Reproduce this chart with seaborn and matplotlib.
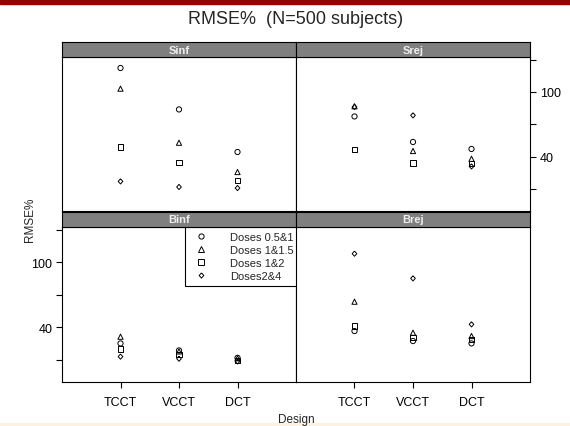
import pandas as pd
import matplotlib
matplotlib.use("Agg")
import matplotlib.pyplot as plt
import seaborn as sns
from matplotlib.patches import Rectangle

# --- DATA ---
DESIGNS = ["TCCT", "VCCT", "DCT"]
DOSES = ["Doses 0.5&1", "Doses 1&1.5", "Doses 1&2", "Doses2&4"]
# small diamond of the same extent as the circle
DIAMOND = [(0, 1), (0.9, 0), (0, -1), (-0.9, 0), (0, 1)]
MARKERS = ["o", "^", "s", DIAMOND]

# RMSE% : one row per dose pair, one column per design
SINF = [
    [122.3, 83.8, 44.3],
    [103.1, 52.9, 25.7],
    [48.9, 34.3, 17.9],
    [17.0, 11.8, 10.8],
]
SREJ = [
    [77.3, 53.6, 47.1],
    [86.8, 45.2, 38.0],
    [46.7, 34.1, 33.4],
    [86.1, 78.3, 30.9],
]
BINF = [
    [25.1, 18.6, 11.8],
    [31.3, 17.7, 11.3],
    [19.9, 14.7, 9.4],
    [12.9, 11.0, 8.5],
]
BREJ = [
    [36.5, 27.3, 25.1],
    [63.6, 35.0, 31.9],
    [41.1, 30.4, 28.8],
    [107.9, 85.1, 42.7],
]

Y_TICKS = [10, 40, 70, 100, 130]
Y_TICK_LABELS = ["", "40", "", "100", ""]

W, H = 570, 427


def to_frame(values):
    rows = []
    for dose, row in zip(DOSES, values):
        for design, v in zip(DESIGNS, row):
            rows.append({"Design": design, "Dose": dose, "RMSE": v})
    return pd.DataFrame(rows)


def px_box(x0, y0, x1, y1):
    """pixel box (top-left origin) -> figure fraction rect"""
    return [x0 / W, 1 - y1 / H, (x1 - x0) / W, (y1 - y0) / H]


sns.set_style("ticks")
plt.rcParams["font.family"] = ["Liberation Sans", "DejaVu Sans"]

fig = plt.figure(figsize=(W / 100, H / 100), dpi=100)

# top dark red band and the pale band at the bottom
fig.patches.append(Rectangle((0, 1 - 5 / H), 1, 5 / H, transform=fig.transFigure,
                             color="#990000", zorder=0))
fig.patches.append(Rectangle((0, 0), 1, 3 / H, transform=fig.transFigure,
                             color="#fdf1e1", zorder=0))

# name, data, panel box (x0, y0, x1, y1), strip top, row, col
panels = [
    ("Sinf", SINF, (62, 58, 296, 212), 43, 0, 0),
    ("Srej", SREJ, (296, 58, 530, 212), 43, 0, 1),
    ("Binf", BINF, (62, 228, 296, 383), 213, 1, 0),
    ("Brej", BREJ, (296, 228, 530, 383), 213, 1, 1),
]

for name, values, (x0, y0, x1, y1), strip_top, row, col in panels:
    df = to_frame(values)
    ax = fig.add_axes(px_box(x0, y0, x1, y1))
    sns.scatterplot(
        data=df, x="Design", y="RMSE", style="Dose", style_order=DOSES,
        markers=dict(zip(DOSES, MARKERS)), s=14, facecolor="none",
        edgecolor="black", linewidth=0.7, legend=(name == "Binf"), ax=ax,
    )
    ax.set_xlim(-1, 3)
    ax.set_ylim(-10.5, 132.5)
    ax.set_xlabel("")
    ax.set_ylabel("")
    ax.set_xticks(range(len(DESIGNS)), DESIGNS)
    ax.set_yticks(Y_TICKS, Y_TICK_LABELS)
    for sp in ax.spines.values():
        sp.set_color("black")
        sp.set_linewidth(0.8)

    # lattice style alternating axes
    ax.tick_params(axis="both", direction="out", length=4, width=0.8,
                   labelsize=9, colors="black")
    if row == 0:
        ax.tick_params(axis="x", bottom=False, labelbottom=False)
    else:
        ax.tick_params(axis="x", pad=6)
    if row == 1 and col == 0:
        ax.tick_params(axis="y", left=True, labelleft=True, pad=3)
    elif row == 0 and col == 1:
        ax.yaxis.tick_right()
        ax.tick_params(axis="y", right=True, labelright=True, left=False,
                       labelleft=False, pad=3)
    else:
        ax.tick_params(axis="y", left=False, labelleft=False)

    # strip
    sax = fig.add_axes(px_box(x0, strip_top, x1, y0))
    sax.set_facecolor("#7f7f7f")
    sax.set_xticks([])
    sax.set_yticks([])
    for sp in sax.spines.values():
        sp.set_color("black")
        sp.set_linewidth(0.8)
    sax.text(0.5, 0.5, name, ha="center", va="center", fontsize=8,
             fontweight="bold", color="#eeeeee", transform=sax.transAxes)

    if name == "Binf":
        sns.move_legend(
            ax, "upper left", bbox_to_anchor=((185 - x0) / (x1 - x0), 1.0),
            title=None, frameon=True, fancybox=False, fontsize=8,
            borderaxespad=0, borderpad=0.45, handlelength=2.0,
            handletextpad=1.6, labelspacing=0.28, framealpha=1,
        )
        leg = ax.get_legend()
        leg.get_frame().set_edgecolor("black")
        leg.get_frame().set_linewidth(0.8)

fig.text(296 / W, 1 - 19 / H, "RMSE%  (N=500 subjects)", ha="center",
         va="center", fontsize=13)
fig.text(30 / W, 1 - 220 / H, "RMSE%", ha="center", va="center",
         rotation=90, fontsize=8.5)
fig.text(296 / W, 1 - 420 / H, "Design", ha="center", va="center",
         fontsize=8.5)

plt.savefig("out.png", dpi=100)
plt.close()
